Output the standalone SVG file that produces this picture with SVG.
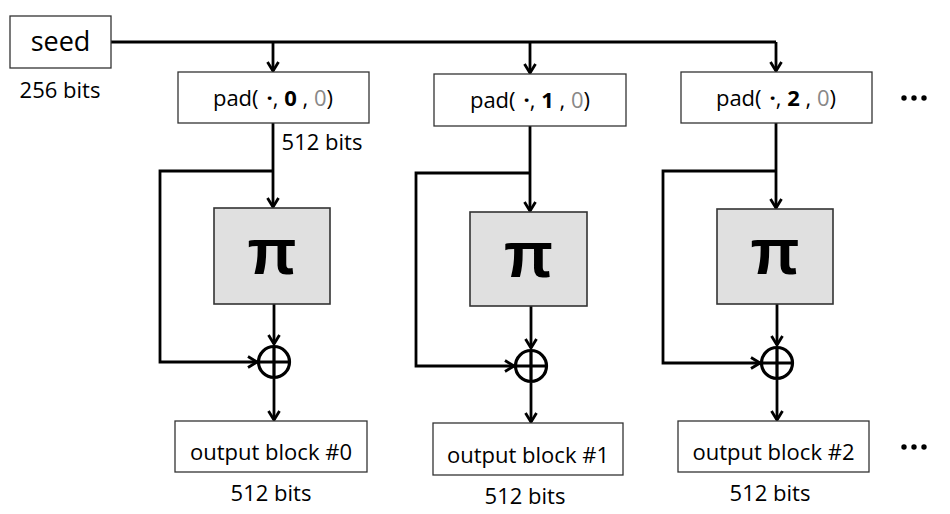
<svg xmlns="http://www.w3.org/2000/svg" width="950" height="514" viewBox="0 0 950 514">
  <style>
    text { font-family: "Open Sans", Lato, "Liberation Sans", sans-serif; fill: #000; }
    .box { fill: #fff; stroke: #333; stroke-width: 1.3; }
    .pi { fill: #e0e0e0; stroke: #333; stroke-width: 1.6; }
    .lbl { font-size: 22px; text-anchor: middle; }
    .pitxt { font-family: "Liberation Sans", sans-serif; font-weight: bold; font-size: 64px; text-anchor: middle; }
    .wire { fill: none; stroke: #000; stroke-width: 2.8; }
    .arr { fill: none; stroke: #000; stroke-width: 2.8; marker-end: url(#ah); }
    .xor { fill: #fff; stroke: #000; stroke-width: 3.2; }
    .g { fill: #888; }
    .b { font-weight: bold; }
  </style>
  <defs>
    <marker id="ah" viewBox="0 0 12 14" refX="10.5" refY="7" markerWidth="12" markerHeight="14" orient="auto" markerUnits="userSpaceOnUse">
      <path d="M1.5,1.5 L10.5,7 L1.5,12.5" fill="none" stroke="#000" stroke-width="2.8" stroke-linejoin="miter"/>
    </marker>
  </defs>

  <g id="connectors">
    <polyline class="wire" points="111,42 776,42"/>
    <line class="arr" x1="273" y1="42" x2="273" y2="71"/>
    <line class="arr" x1="530" y1="42" x2="530" y2="73"/>
    <line class="arr" x1="776" y1="42" x2="776" y2="71"/>

    <!-- column 0 -->
    <line class="arr" x1="273" y1="123" x2="273" y2="207"/>
    <polyline class="arr" points="273,171 160,171 160,362 257,362"/>
    <line class="arr" x1="274" y1="304" x2="274" y2="344"/>
    <line class="arr" x1="274" y1="379" x2="274" y2="420"/>

    <!-- column 1 -->
    <line class="arr" x1="530" y1="126" x2="530" y2="211"/>
    <polyline class="arr" points="530,173 416,173 416,366 514,366"/>
    <line class="arr" x1="531" y1="306" x2="531" y2="348"/>
    <line class="arr" x1="531" y1="383" x2="531" y2="422"/>

    <!-- column 2 -->
    <line class="arr" x1="776" y1="123" x2="776" y2="208"/>
    <polyline class="arr" points="776,171 663,171 663,363 760,363"/>
    <line class="arr" x1="777" y1="304" x2="777" y2="345"/>
    <line class="arr" x1="777" y1="380" x2="777" y2="420"/>
  </g>

  <g id="seed">
    <rect class="box" x="10" y="16" width="101" height="52"/>
    <text x="60.5" y="51" style="font-size:27px" text-anchor="middle">seed</text>
    <text x="60" y="98" class="lbl">256 bits</text>
  </g>

  <g id="pad0">
    <rect class="box" x="178" y="72" width="191" height="51"/>
    <text x="273" y="106" class="lbl">pad(<tspan dx="8" class="b">·</tspan>, <tspan class="b">0</tspan> , <tspan class="g">0</tspan>)</text>
    <text x="322" y="150" class="lbl">512 bits</text>
  </g>
  <g id="pad1">
    <rect class="box" x="434" y="74" width="192" height="52"/>
    <text x="530" y="108" class="lbl">pad(<tspan dx="8" class="b">·</tspan>, <tspan class="b">1</tspan> , <tspan class="g">0</tspan>)</text>
  </g>
  <g id="pad2">
    <rect class="box" x="681" y="72" width="191" height="51"/>
    <text x="776" y="106" class="lbl">pad(<tspan dx="8" class="b">·</tspan>, <tspan class="b">2</tspan> , <tspan class="g">0</tspan>)</text>
  </g>
  <g id="dots-top">
    <circle cx="904" cy="98" r="2.7"/>
    <circle cx="914" cy="98" r="2.7"/>
    <circle cx="924" cy="98" r="2.7"/>
  </g>

  <g id="pi0">
    <rect class="pi" x="214" y="208" width="116" height="96"/>
    <text x="272" y="274" class="pitxt">π</text>
  </g>
  <g id="pi1">
    <rect class="pi" x="470" y="212" width="117" height="94"/>
    <text x="528.5" y="277" class="pitxt">π</text>
  </g>
  <g id="pi2">
    <rect class="pi" x="717" y="209" width="116" height="95"/>
    <text x="775" y="274" class="pitxt">π</text>
  </g>

  <g id="xor0">
    <circle class="xor" cx="274" cy="362" r="15.5"/>
    <path d="M258.5,362 H289.5 M274,346.5 V377.5" stroke="#000" stroke-width="3.2"/>
  </g>
  <g id="xor1">
    <circle class="xor" cx="531" cy="366" r="15.5"/>
    <path d="M515.5,366 H546.5 M531,350.5 V381.5" stroke="#000" stroke-width="3.2"/>
  </g>
  <g id="xor2">
    <circle class="xor" cx="777" cy="363" r="15.5"/>
    <path d="M761.5,363 H792.5 M777,347.5 V378.5" stroke="#000" stroke-width="3.2"/>
  </g>

  <g id="out0">
    <rect class="box" x="175" y="421" width="192" height="51"/>
    <text x="271" y="460" class="lbl">output block #0</text>
    <text x="271" y="501" class="lbl">512 bits</text>
  </g>
  <g id="out1">
    <rect class="box" x="433" y="423" width="190" height="52"/>
    <text x="528" y="463" class="lbl">output block #1</text>
    <text x="525" y="504" class="lbl">512 bits</text>
  </g>
  <g id="out2">
    <rect class="box" x="678" y="421" width="191" height="51"/>
    <text x="773.5" y="460" class="lbl">output block #2</text>
    <text x="770" y="501" class="lbl">512 bits</text>
  </g>
  <g id="dots-bottom">
    <circle cx="904" cy="447" r="2.7"/>
    <circle cx="914" cy="447" r="2.7"/>
    <circle cx="924" cy="447" r="2.7"/>
  </g>
</svg>
